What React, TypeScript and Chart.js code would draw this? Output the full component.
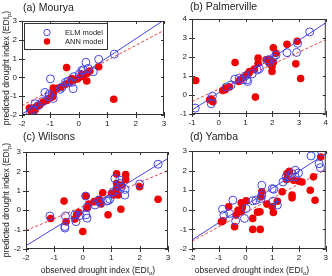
import React, { useEffect, useRef } from "react";
import { Chart, registerables } from "chart.js";

Chart.register(...registerables);

// ---- observed vs predicted EDI, [observed, predicted] ----
const mouryaElm: [number, number][] = [
  [1.25, 1.24], [0.7, 0.96], [0.25, 0.8], [-1.0, -0.08], [0.1, 0.36], [0.02, 0.18],
  [0.33, 0.48], [-0.17, 0.04], [-0.37, -0.19], [-0.25, -0.27], [-0.59, -0.52],
  [-0.66, -0.63], [-0.9, -1.12], [-1.04, -0.89], [-1.19, -0.8], [-1.04, -1.01],
  [-1.28, -1.28], [-1.42, -1.5], [-1.6, -1.72], [-1.72, -1.86], [-1.54, -1.4],
  [-0.2, -0.6], [0.51, 0.3], [0.16, 0.39], [-0.47, -0.27],
];
const mouryaAnn: [number, number][] = [
  [-0.43, 0.52], [1.23, -1.16], [0.7, 0.57], [0.28, -0.19], [0.39, 0.34], [0.3, 0.22],
  [0.18, 0.13], [0.08, 0.04], [-0.05, -0.08], [-0.17, -0.13], [-0.31, -0.24],
  [-0.46, -0.36], [-0.63, -0.52], [-0.72, -0.57], [-0.9, -0.84], [-0.92, -1.03],
  [-1.13, -1.23], [-1.25, -1.31], [-1.37, -1.45], [-1.48, -1.54], [-1.6, -1.63],
  [-1.69, -1.68], [-1.68, -1.8], [-1.6, -1.89], [-1.54, -1.72], [-1.01, -1.1],
  [-0.25, -0.06], [0.1, 0.18], [-1.74, -1.63], [-0.9, -0.56],
];
const mouryaElmFit = [1.0, 0.05]; // slope, intercept
const mouryaAnnFit = [0.8, 0.1];

const palmervilleElm: [number, number][] = [
  [3.4, 3.32], [2.95, 2.72], [2.91, 2.24], [2.55, 2.23], [-0.88, -0.69], [-0.28, -0.46],
  [-0.24, -0.07], [0.46, 0.53], [0.28, 0.42], [0.77, 0.89], [0.9, 0.8], [1.08, 0.71],
  [1.0, 1.01], [1.25, 1.11], [1.52, 1.38], [1.44, 1.32], [1.89, 1.73], [2.04, 1.94],
  [2.14, 2.11], [1.84, 1.85], [1.05, 0.8], [0.6, 0.83],
];
const palmervilleAnn: [number, number][] = [
  [-0.86, 0.76], [3.06, 0.87], [2.88, 1.64], [2.55, 2.67], [2.93, 2.83], [2.04, 2.49],
  [2.04, 1.72], [1.99, 1.5], [1.99, 1.24], [1.47, 1.94], [1.47, 1.67], [1.37, -0.11],
  [0.61, 1.71], [-0.28, -0.21], [-0.22, -0.35], [-0.34, -0.25], [0.15, 0.24],
  [0.25, 0.36], [0.4, 0.42], [0.75, 0.71], [0.8, 0.8], [0.9, 0.89], [1.05, 1.06],
  [1.15, 1.24], [1.33, 1.36], [1.77, 1.85], [1.89, 1.88], [2.14, 2.2], [1.89, 1.67],
  [0.24, 0.28], [1.12, 1.15],
];
const palmervilleElmFit = [0.92, 0.12];
const palmervilleAnnFit = [0.65, 0.31];

const wilsonsElm: [number, number][] = [
  [2.65, 2.37], [2.0, 1.35], [1.48, 0.78], [1.49, 1.07], [1.36, 1.2], [1.3, 1.38],
  [1.13, 1.63], [1.19, 1.04], [1.07, 0.95], [0.95, 0.56], [0.89, 0.49], [0.56, 0.52],
  [0.6, 0.39], [0.1, 0.73], [0.15, 0.15], [0.11, -0.24], [0.15, -0.41], [-0.1, -0.28],
  [-0.24, -0.59], [-0.28, -0.24], [-0.63, -0.84], [-0.63, -0.92], [-1.16, -0.3],
  [-0.61, -0.3], [0.84, 0.47], [0.43, 0.27], [1.3, 1.55],
];
const wilsonsAnn: [number, number][] = [
  [-0.66, 0.47], [-0.59, -0.6], [-1.13, -0.43], [0.0, -1.1], [2.65, 0.56], [2.0, 1.21],
  [1.34, 0.05], [0.89, -0.24], [1.19, 1.87], [1.51, 1.84], [1.51, 1.58], [1.19, 1.38],
  [1.36, 1.29], [1.24, 0.78], [1.01, 0.87], [0.7, 0.9], [0.58, 0.56], [0.64, 0.32],
  [0.4, 0.44], [0.21, 0.32], [0.11, 0.73], [0.15, 0.1], [-0.15, -0.12], [-0.22, -0.24],
  [-0.28, -0.46], [1.07, 0.78], [1.19, 1.12], [0.6, 0.44],
];
const wilsonsElmFit = [0.9, -0.03];
const wilsonsAnnFit = [0.62, 0.19];

const yambaElm: [number, number][] = [
  [2.85, 2.95], [2.45, 2.75], [2.75, 2.35], [2.8, 2.15], [1.86, 2.02], [1.74, 1.85],
  [1.67, 1.68], [1.52, 1.68], [1.4, 1.42], [1.86, 1.68], [1.0, 1.08], [1.06, 1.05],
  [0.61, 1.25], [0.61, 0.75], [0.58, 0.58], [0.39, 0.49], [0.27, 0.46], [1.03, 0.44],
  [1.19, 0.24], [-0.47, 0.49], [-0.86, 0.03], [-0.81, -0.27], [-0.37, -0.56],
  [-0.04, -0.44], [0.02, 0.07], [-0.59, -0.19], [1.98, 1.88],
];
const yambaAnn: [number, number][] = [
  [2.81, 2.69], [2.54, 1.68], [2.6, 0.49], [2.42, 1.0], [2.11, 1.42], [1.98, 1.47],
  [1.8, 1.51], [1.55, 1.85], [1.64, 1.97], [1.53, 1.54], [1.74, 0.75], [1.74, 0.61],
  [1.37, 0.92], [1.19, 0.44], [1.0, 0.15], [1.04, -0.14], [0.8, 0.29], [0.61, 0.92],
  [0.58, 0.66], [0.54, -0.1], [0.45, -0.12], [0.55, -1.0], [0.27, -1.0], [0.27, -0.44],
  [-0.16, 0.36], [0.02, 0.46], [-0.12, 0.12], [-0.28, -0.02], [-0.35, -0.27],
  [-0.41, -0.86], [-0.63, 0.15], [-0.84, -0.56], [-0.9, -0.61], [-0.16, -0.1],
];
const yambaElmFit = [0.88, 0.22];
const yambaAnnFit = [0.73, -0.14];

const seriesLabels = ["ELM model", "ANN model"];

// ---- styling ----
const W = 332;
const H = 276;
const YW = 16; // y-axis box width
const XH = 14; // x-axis box height
const BLUE = "rgb(70,70,228)";
const RED = "rgb(240,0,0)";
const RED_LINE = "rgb(232,70,70)";
const INK = "#222";
const FONT = "'Liberation Sans', Arial, sans-serif";

type Panel = {
  title: string;
  elm: [number, number][];
  ann: [number, number][];
  elmFit: number[];
  annFit: number[];
  min: number;
  max: number;
  area: { l: number; t: number; r: number; b: number };
  titlePos: { x: number; y: number };
  legend?: boolean;
};

const panels: Panel[] = [
  {
    title: "(a) Mourya", elm: mouryaElm, ann: mouryaAnn, elmFit: mouryaElmFit, annFit: mouryaAnnFit,
    min: -2, max: 3, area: { l: 22, t: 21, r: 164, b: 115 }, titlePos: { x: 23, y: 2 }, legend: true,
  },
  {
    title: "(b) Palmerville", elm: palmervilleElm, ann: palmervilleAnn, elmFit: palmervilleElmFit,
    annFit: palmervilleAnnFit, min: -1, max: 4, area: { l: 192, t: 19, r: 327, b: 114 },
    titlePos: { x: 190, y: 1 },
  },
  {
    title: "(c) Wilsons", elm: wilsonsElm, ann: wilsonsAnn, elmFit: wilsonsElmFit, annFit: wilsonsAnnFit,
    min: -2, max: 3, area: { l: 26, t: 152, r: 168, b: 249 }, titlePos: { x: 23, y: 131 },
  },
  {
    title: "(d) Yamba", elm: yambaElm, ann: yambaAnn, elmFit: yambaElmFit, annFit: yambaAnnFit,
    min: -2, max: 3, area: { l: 192, t: 151, r: 328, b: 249 }, titlePos: { x: 190, y: 131 },
  },
];

const toPoints = (a: [number, number][]) => a.map(([x, y]) => ({ x, y }));
const fitLine = (fit: number[], lo: number, hi: number) => [
  { x: lo, y: fit[0] * lo + fit[1] },
  { x: hi, y: fit[0] * hi + fit[1] },
];

// Boxed legend in the upper-left corner of the plot
const boxLegend = {
  id: "boxLegend",
  afterDatasetsDraw(chart: any, _args: any, opts: any) {
    if (!opts || !opts.show) return;
    const { ctx, chartArea } = chart;
    const x = chartArea.left + 2.5;
    const y = chartArea.top + 2.5;
    ctx.save();
    ctx.fillStyle = "#fff";
    ctx.fillRect(x, y, 83, 26);
    ctx.strokeStyle = "#333";
    ctx.lineWidth = 1;
    ctx.strokeRect(x, y, 83, 26);
    chart.data.datasets.slice(0, 2).forEach((ds: any, i: number) => {
      const cy = y + 9 + i * 9;
      const cx = x + 22.5;
      ctx.beginPath();
      ctx.arc(cx, cy, 3.2, 0, Math.PI * 2);
      if (i === 0) {
        ctx.strokeStyle = BLUE;
        ctx.stroke();
      } else {
        ctx.fillStyle = RED;
        ctx.fill();
      }
      ctx.fillStyle = INK;
      ctx.font = `7.5px ${FONT}`;
      ctx.textBaseline = "middle";
      ctx.textAlign = "left";
      ctx.fillText(ds.label, x + 40.5, cy + 0.5);
    });
    ctx.restore();
  },
};

// Plot frame with tick marks on all four sides
const frame = {
  id: "frame",
  afterDraw(chart: any) {
    const { ctx, chartArea, scales } = chart;
    const { left, top, right, bottom } = chartArea;
    ctx.save();
    ctx.strokeStyle = "#333";
    ctx.lineWidth = 1;
    ctx.strokeRect(left + 0.5, top + 0.5, right - left - 1, bottom - top - 1);
    ctx.beginPath();
    scales.x.ticks.forEach((t: any) => {
      const px = Math.round(scales.x.getPixelForValue(t.value)) + 0.5;
      ctx.moveTo(px, bottom - 3);
      ctx.lineTo(px, bottom + 3);
      ctx.moveTo(px, top);
      ctx.lineTo(px, top + 3);
    });
    scales.y.ticks.forEach((t: any) => {
      const py = Math.round(scales.y.getPixelForValue(t.value)) + 0.5;
      ctx.moveTo(left - 3, py);
      ctx.lineTo(left + 3, py);
      ctx.moveTo(right - 3, py);
      ctx.lineTo(right, py);
    });
    ctx.stroke();
    ctx.restore();
  },
};

function PanelChart({ p }: { p: Panel }) {
  const ref = useRef<HTMLCanvasElement>(null);
  useEffect(() => {
    if (!ref.current) return;
    const tickFont = { family: FONT, size: 8 };
    const chart = new Chart(ref.current, {
      type: "scatter",
      data: {
        datasets: [
          {
            label: seriesLabels[0],
            data: toPoints(p.elm),
            pointStyle: "circle",
            pointRadius: 4,
            pointBackgroundColor: "rgba(0,0,0,0)",
            pointBorderColor: BLUE,
            pointBorderWidth: 1,
          },
          {
            label: seriesLabels[1],
            data: toPoints(p.ann),
            pointStyle: "circle",
            pointRadius: 3.8,
            pointBackgroundColor: RED,
            pointBorderColor: RED,
            pointBorderWidth: 0,
          },
          {
            label: "ELM fit",
            data: fitLine(p.elmFit, p.min, p.max),
            showLine: true,
            borderColor: BLUE,
            borderWidth: 1,
            pointRadius: 0,
          },
          {
            label: "ANN fit",
            data: fitLine(p.annFit, p.min, p.max),
            showLine: true,
            borderColor: RED_LINE,
            borderWidth: 1,
            borderDash: [3, 2],
            pointRadius: 0,
          },
        ],
      } as any,
      options: {
        responsive: false,
        animation: false,
        devicePixelRatio: 1,
        events: [],
        layout: {
          padding: {
            left: p.area.l - YW,
            top: p.area.t,
            right: W - p.area.r,
            bottom: H - p.area.b - XH,
          },
        },
        plugins: {
          legend: { display: false },
          tooltip: { enabled: false },
          boxLegend: { show: !!p.legend },
        } as any,
        scales: {
          x: {
            type: "linear",
            min: p.min,
            max: p.max,
            ticks: { stepSize: 1, font: tickFont, color: INK, padding: 4, maxRotation: 0, autoSkip: false },
            grid: { display: false, drawTicks: false },
            border: { display: false },
            afterFit: (s: any) => { s.height = XH; },
          },
          y: {
            type: "linear",
            min: p.min,
            max: p.max,
            ticks: { stepSize: 1, font: tickFont, color: INK, padding: 5, autoSkip: false },
            grid: { display: false, drawTicks: false },
            border: { display: false },
            afterFit: (s: any) => { s.width = YW; },
          },
        },
      } as any,
      plugins: [boxLegend, frame],
    });
    return () => chart.destroy();
  }, [p]);
  return (
    <canvas
      ref={ref}
      width={W}
      height={H}
      style={{ position: "absolute", left: 0, top: 0, width: W, height: H }}
    />
  );
}

const Sub = ({ children }: { children: React.ReactNode }) => (
  <span style={{ fontSize: "0.7em", position: "relative", top: "0.35em" }}>{children}</span>
);

export default function App() {
  const axisText: React.CSSProperties = {
    position: "absolute",
    fontSize: 8.5,
    color: INK,
    whiteSpace: "nowrap",
    lineHeight: 1,
  };
  return (
    <div
      style={{
        position: "fixed",
        left: 0,
        top: 0,
        width: W,
        height: H,
        background: "#fff",
        fontFamily: FONT,
        overflow: "hidden",
      }}
    >
      {panels.map((p) => (
        <PanelChart key={p.title} p={p} />
      ))}
      {panels.map((p) => (
        <div
          key={"t" + p.title}
          style={{
            position: "absolute",
            left: p.titlePos.x,
            top: p.titlePos.y,
            fontSize: 10.5,
            lineHeight: 1,
            color: INK,
            whiteSpace: "nowrap",
          }}
        >
          {p.title}
        </div>
      ))}
      {[68, 200].map((cy) => (
        <div
          key={"y" + cy}
          style={{
            ...axisText,
            left: 6,
            top: cy,
            transform: "translate(-50%, -50%) rotate(-90deg)",
          }}
        >
          predicted drought index (EDI<Sub>p</Sub>)
        </div>
      ))}
      {[98, 252].map((cx) => (
        <div
          key={"x" + cx}
          style={{
            ...axisText,
            left: cx,
            top: 270,
            transform: "translate(-50%, -50%)",
          }}
        >
          observed drought index (EDI<Sub>o</Sub>)
        </div>
      ))}
    </div>
  );
}
